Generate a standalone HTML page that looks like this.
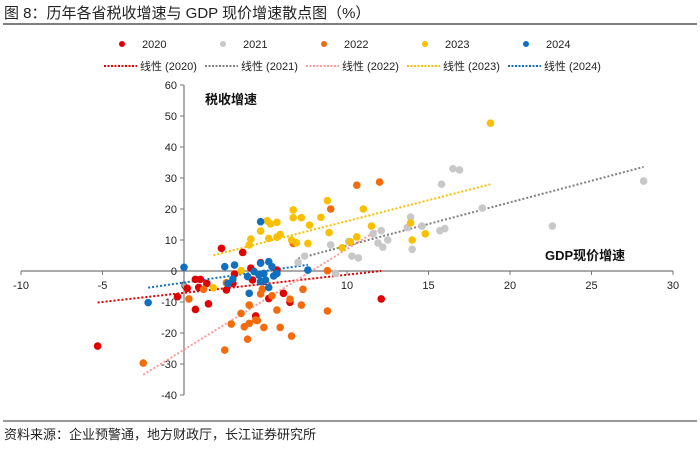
<!DOCTYPE html>
<html><head><meta charset="utf-8"><style>
body{margin:0;background:#fff;width:700px;height:444px;overflow:hidden;font-family:"Liberation Sans","Noto Sans CJK SC",sans-serif}
</style></head><body>
<svg width="700" height="444" xmlns="http://www.w3.org/2000/svg" id="chart" font-family="Liberation Sans, Noto Sans CJK SC, sans-serif">
<text x="4" y="18" font-size="15" fill="#222">图 8：历年各省税收增速与 GDP 现价增速散点图（%）</text>
<line x1="3" y1="24" x2="697" y2="24" stroke="#333" stroke-width="1.2"/>
<line x1="3" y1="421" x2="697" y2="421" stroke="#333" stroke-width="1"/>
<text x="4" y="439" font-size="13" fill="#222">资料来源：企业预警通，地方财政厅，长江证券研究所</text>
<text x="205" y="104" font-size="13" font-weight="bold" fill="#111">税收增速</text>
<text x="545" y="260" font-size="13" font-weight="bold" fill="#111">GDP现价增速</text>
<g id="axes"></g><g id="trends"></g><g id="points"></g><g id="legend"></g>
</svg>
<script>
const years=['2020','2021','2022','2023','2024'];
const colors=['#e00000','#c8c8c8','#f36b0c','#fbbf00','#1070c0'];
const trendColors=['#e00000','#808080','#ff9a9a','#fbbf00','#1070c0'];
const xTicks=[-10,-5,0,5,10,15,20,25,30];
const yTicks=[-40,-30,-20,-10,0,10,20,30,40,50,60];
const s2020x=[-5.3,-0.4,0.2,0.7,1.0,0.9,1.4,0.7,1.5,2.3,3.6,2.6,3.0,3.1,4.1,4.2,4.7,4.4,5.2,5.7,6.1,6.5,12.1];
const s2020y=[-24.2,-8.3,-5.6,-2.7,-2.7,-5.3,-4,-12.4,-10.6,7.3,6,-6.1,-4,-1,0.9,-2.9,2.7,-14.5,-8.9,0.3,-7.2,-10.1,-9];
const s2021x=[7,7.4,9,9.3,10.1,10.3,10.7,11.6,12.1,11.9,12.2,12.5,13.9,13.7,14.6,14,15.7,16,15.8,16.5,16.9,18.3,22.6,28.2];
const s2021y=[2.8,4.8,8.4,-0.8,9.5,4.8,4.2,12,13,9,7.7,10,17.4,14,14.5,7,13,13.7,28,33,32.6,20.3,14.5,29];
const s2022x=[0.3,1.2,2.6,4,3.5,3.7,4,2.9,3.9,2.5,4.4,4.5,4.9,4.7,4.8,5.4,5.7,5.9,6.5,6.6,7.3,6.7,8.8,8.8,9,10.6,12,-2.5,7.2];
const s2022y=[-9,-5.9,-3.8,-11,-13.7,-18,-16.9,-17.1,-22,-25.5,-15.8,-16,-18.2,-7.4,-5.9,-8,-12.6,-18.2,-9.1,-21,-5.9,8.9,0.1,-12.9,20,27.7,28.7,-29.7,-11];
const s2023x=[3.5,1.8,4.1,4.0,4.7,5.1,5.3,5.7,5.2,5.7,5.9,6.7,6.7,7.2,7.7,6.6,6.9,7.6,8.4,8.8,8.9,9.7,10.2,10.6,18.8,11,14,14.8,11.5,13.9];
const s2023y=[0.1,-5.4,10.3,8.4,12.9,16.2,15.2,15.7,10.5,10.9,11.8,19.7,17.2,17.2,14.8,10,9.1,8.9,17.3,22.7,12.4,7.5,9.4,11,47.7,20,10,12,14.5,15.5];
const s2024x=[0,-2.2,2.5,3.1,3,2.7,4,4.7,4.7,5.2,5.4,3.9,4.3,4.6,4.9,5,5.2,5.5,5.7,7.6,4.7];
const s2024y=[1.2,-10.2,1.4,1.9,-2.6,-4,-7.2,15.9,2.5,3,1.4,-1.8,-0.2,-1.3,-0.8,-2.9,-5.3,-1.6,-0.8,0.3,-3.4];
const seriesX=[s2020x,s2021x,s2022x,s2023x,s2024x];
const seriesY=[s2020y,s2021y,s2022y,s2023y,s2024y];
const NS='http://www.w3.org/2000/svg';
function X(v){return 184+v*16.3;}
function Y(v){return 271-v*3.1;}
function mk(tag,attrs,parent,text){const e=document.createElementNS(NS,tag);for(const k in attrs)e.setAttribute(k,attrs[k]);if(text!==undefined)e.textContent=text;document.getElementById(parent).appendChild(e);return e;}
let ax=mk('line',{x1:X(-10),y1:Y(0),x2:X(30),y2:Y(0),stroke:'#777','stroke-width':1.2},'axes');


let ay=mk('line',{x1:X(0),y1:Y(60),x2:X(0),y2:Y(-40),stroke:'#777','stroke-width':1.2},'axes');


xTicks.forEach(t=>{
 let l=mk('line',{x1:X(t),y1:Y(0),x2:X(t),y2:Y(0)+4,stroke:'#777'},'axes');
 
 
 let tx=mk('text',{x:X(t),y:Y(0)+18,'font-size':11,'text-anchor':'middle',fill:'#222'},'axes',String(t));
 
 
});
yTicks.forEach(t=>{
 let l=mk('line',{x1:X(0)-4,y1:Y(t),x2:X(0),y2:Y(t),stroke:'#777'},'axes');
 
 
 let tx=mk('text',{x:X(0)-7,y:Y(t)+4,'font-size':11,'text-anchor':'end',fill:'#222'},'axes',String(t));
 
 
});
seriesX.forEach((xs,i)=>{xs.forEach((x,j)=>{
 let c=mk('circle',{cx:X(x),cy:Y(seriesY[i][j]),r:3.8,fill:colors[i]},'points');
 
 
});});
seriesX.forEach((xs,i)=>{
 const ys=seriesY[i],n=xs.length;let mx=0,my=0;xs.forEach((x,j)=>{mx+=x;my+=ys[j];});mx/=n;my/=n;
 let sxy=0,sxx=0;xs.forEach((x,j)=>{sxy+=(x-mx)*(ys[j]-my);sxx+=(x-mx)*(x-mx);});
 const b=sxy/sxx,a=my-b*mx,x0=Math.min(...xs),x1=Math.max(...xs);
 let l=mk('line',{x1:X(x0),y1:Y(a+b*x0),x2:X(x1),y2:Y(a+b*x1),stroke:trendColors[i],'stroke-width':2,'stroke-dasharray':'2 2'},'trends');
 
 
});
years.forEach((yr,i)=>{
 const lx=122+i*101;
 let c=mk('circle',{cx:lx,cy:44,r:3,fill:colors[i]},'legend');
 
 
 let t=mk('text',{x:lx+20,y:48,'font-size':11,fill:'#222'},'legend',yr);
 
 
 const tx=104+i*101;
 let l=mk('line',{x1:tx,y1:66,x2:tx+33,y2:66,stroke:trendColors[i],'stroke-width':2,'stroke-dasharray':'2 1.5'},'legend');
 
 
 let t2=mk('text',{x:tx+36,y:70,'font-size':11,fill:'#222'},'legend','线性 ('+yr+')');
 
 
});
</script>
</body></html>
